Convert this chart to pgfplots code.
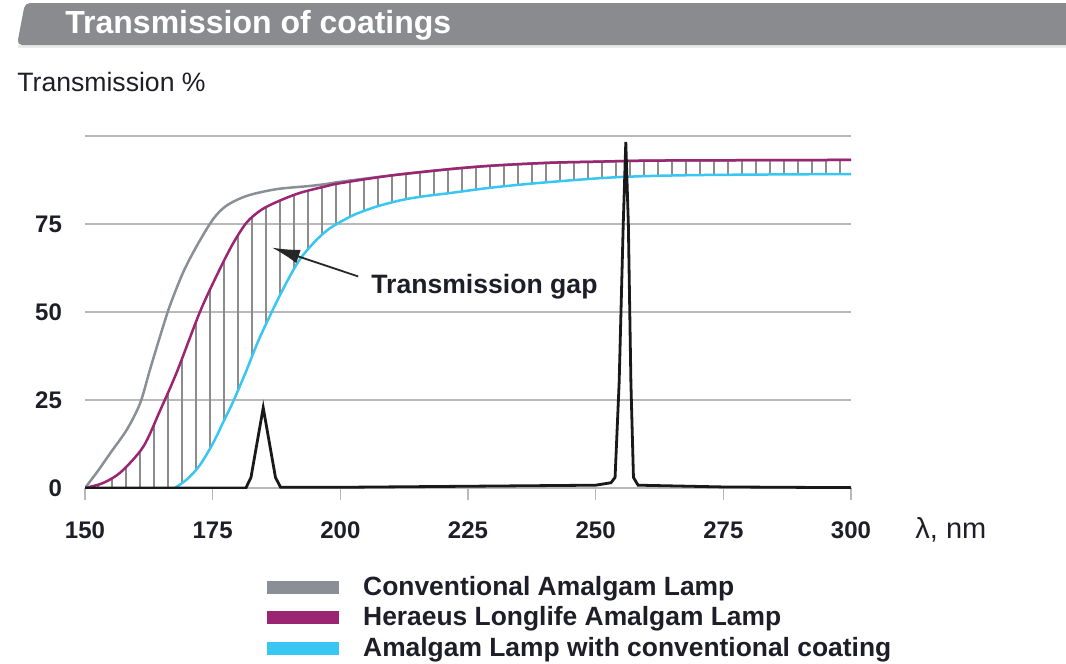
\documentclass[border=0pt]{standalone}
\usepackage{fontspec}
\setmainfont{Liberation Sans}
\usepackage{pgfplots}
\pgfplotsset{compat=1.18}
\usepgfplotslibrary{fillbetween}
\usetikzlibrary{patterns.meta,arrows.meta}

\definecolor{banner}{HTML}{8A8B8F}
\definecolor{convgray}{HTML}{8A8F96}
\definecolor{heraeus}{HTML}{9B2473}
\definecolor{coatcyan}{HTML}{38C6F2}
\definecolor{gridgray}{HTML}{B9B9B9}
\definecolor{hatch}{HTML}{8C8C8C}
\definecolor{txt}{HTML}{1E1E28}

\begin{document}
\begin{tikzpicture}
% 1px = 0.5pt, origin top left

% title banner
\fill[black!8] (9pt,-22.5pt) -- (533pt,-22.5pt) -- (533pt,-24pt) -- (9pt,-24pt) -- cycle;
\fill[banner, rounded corners=2.5pt] (12.5pt,-1.5pt) -- (540pt,-1.5pt) -- (540pt,-22.5pt) -- (8.5pt,-22.5pt) -- cycle;
\node[anchor=base west, inner sep=0pt, text=white, font=\bfseries\fontsize{16}{18}\selectfont] at (32.5pt,-16.5pt) {Transmission of coatings};

\node[anchor=base west, inner sep=0pt, text=txt, font=\fontsize{13.3}{15}\selectfont] at (8.5pt,-45.5pt) {Transmission \%};
\node[anchor=base west, inner sep=0pt, text=txt, font=\fontsize{14.5}{16}\selectfont] at (457.5pt,-269pt) {λ, nm};

\begin{axis}[
  at={(42.5pt,-244pt)}, anchor=south west,
  scale only axis,
  width=383pt, height=176pt,
  xmin=150, xmax=300,
  ymin=0, ymax=100,
  set layers,
  axis line style={draw=none},
  xtick={150,175,...,300},
  ytick={0,25,50,75,100},
  yticklabels={0,25,50,75,},
  xtick pos=bottom,
  tick align=outside,
  major tick length=6pt,
  xtick style={gridgray, line width=0.8pt},
  ytick style={draw=none},
  ymajorgrids=true,
  grid style={gridgray, line width=0.8pt},
  /pgf/number format/assume math mode=true,
  ticklabel style={text=txt, font=\bfseries\fontsize{12}{14}\selectfont},
  xticklabel style={anchor=base, yshift=-19pt},
  yticklabel style={anchor=east, xshift=-2pt},
  legend style={at={(0.2376,-0.244)}, anchor=north west, draw=none, fill=none,
    inner sep=0pt, row sep=2.2pt,
    font=\bfseries\fontsize{13.2}{15}\selectfont, text=txt,
    nodes={inner sep=1pt, text=txt}},
  legend cell align=left,
]

% lower edge of the transmission gap
\addplot[draw=none, name path=low, forget plot] coordinates {
(150,0)(167.6,0)(170,2.5)(172.5,6.5)(175.1,12.8)(177,18.5)(179,24.5)(181.5,33)(184,42)(186.8,50.7)(189.5,58.5)(192.1,65)(195,70)(197.5,73.3)(199.9,75.5)(203,77.8)(207.2,80)(212,81.8)(216,82.8)(221.5,83.8)(230,85.4)(240,86.8)(254.2,88.3)(270,88.9)(300,89.2)
};

% conventional amalgam lamp
\addplot[convgray, line width=1.25pt, smooth, forget plot] coordinates {
(150,0)(152.5,4.8)(154.9,9.8)(158.2,16.6)(160.8,24.1)(162.7,33.5)(164.7,43.1)(166.6,51.7)(169.2,61.2)(171.9,68.8)(175.1,76.4)(177.7,80.2)(181.7,83)(187.5,84.9)(194,85.8)(197.4,86.4)(200,87)(210,88.8)(221.5,90.6)(230,91.6)(241,92.4)(250,92.7)(260,93)(275,93.1)(300,93.2)
};

% Heraeus longlife amalgam lamp
\addplot[heraeus, line width=1.25pt, smooth, name path=mag, forget plot] coordinates {
(150,0)(153.5,1.4)(157,4.5)(161.4,11.7)(164.7,22)(168,33)(172.5,50)(176,61)(179,69.5)(181.7,75.5)(184.5,79)(187.6,81.3)(192,83.8)(197.4,85.8)(200,86.6)(210,88.8)(221.5,90.6)(230,91.6)(241,92.4)(250,92.7)(260,93)(275,93.1)(300,93.2)
};

% amalgam lamp with conventional coating
\addplot[coatcyan, line width=1.25pt, smooth, forget plot] coordinates {
(167.6,0)(170,2.5)(172.5,6.5)(175.1,12.8)(177,18.5)(179,24.5)(181.5,33)(184,42)(186.8,50.7)(189.5,58.5)(192.1,65)(195,70)(197.5,73.3)(199.9,75.5)(203,77.8)(207.2,80)(212,81.8)(216,82.8)(221.5,83.8)(230,85.4)(240,86.8)(254.2,88.3)(270,88.9)(300,89.2)
};

% hatching of the gap
\addplot[draw=none, pattern={Lines[angle=90, distance=7pt, line width=0.65pt]}, pattern color=hatch, forget plot]
  fill between[of=mag and low];

% emission spectrum
\addplot[black!90, line width=1.4pt, forget plot] coordinates {
(150,0)(181.5,0)(182.5,3)(184.9,22.8)(187.3,3)(188.3,0.2)(200,0.2)(225,0.5)(250,0.8)(253,1.5)(253.8,3)(254.6,30)(255.4,75)(255.9,98.3)(256.4,75)(256.9,30)(257.4,3)(258.3,0.8)(275,0.3)(300,0.1)
};

\draw[black!85, line width=0.9pt, -{Latex[length=14pt, width=7pt]}] (axis cs:203.5,60.1) -- (axis cs:186.6,68.3);
\node[anchor=west, inner sep=0pt, text=txt, font=\bfseries\fontsize{13.3}{15}\selectfont] at (axis cs:206,57.3) {Transmission gap};

\addlegendimage{legend image code/.code={\fill[convgray] (0pt,-3pt) rectangle (35.5pt,3pt);}}
\addlegendentry{\hspace{11pt}Conventional Amalgam Lamp}
\addlegendimage{legend image code/.code={\fill[heraeus] (0pt,-3pt) rectangle (35.5pt,3pt);}}
\addlegendentry{\hspace{11pt}Heraeus Longlife Amalgam Lamp}
\addlegendimage{legend image code/.code={\fill[coatcyan] (0pt,-3pt) rectangle (35.5pt,3pt);}}
\addlegendentry{\hspace{11pt}Amalgam Lamp with conventional coating}
\end{axis}

\pgfresetboundingbox
\path[use as bounding box] (0pt,0pt) rectangle (533pt,-332pt);
\end{tikzpicture}
\end{document}
